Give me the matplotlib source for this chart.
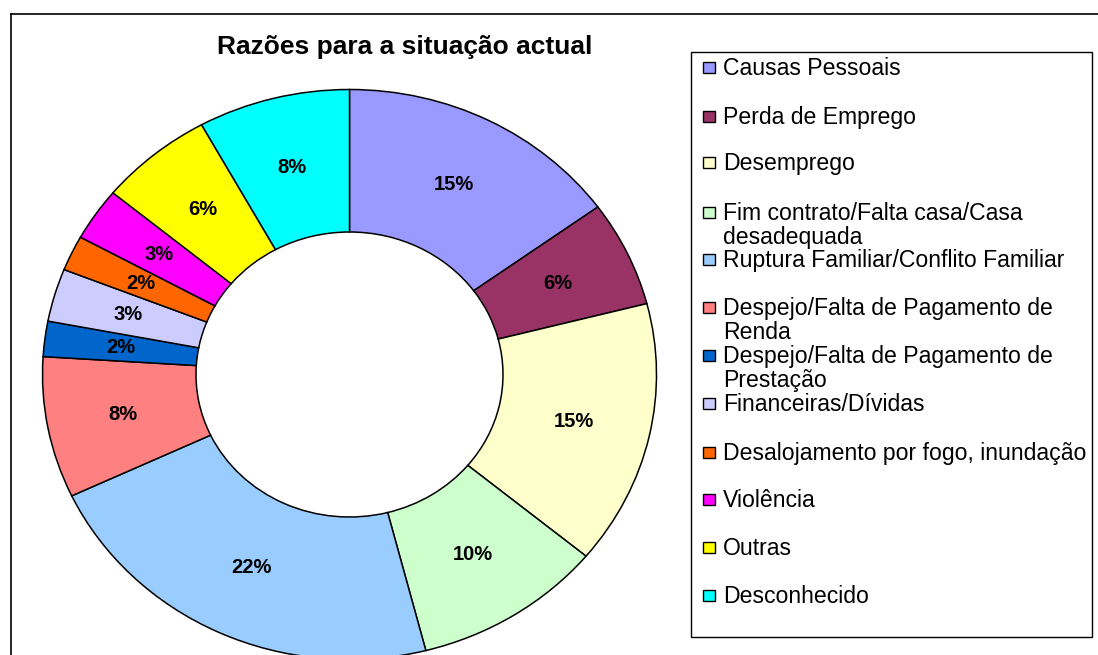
import matplotlib
matplotlib.use("Agg")
import matplotlib.pyplot as plt
from matplotlib.patches import Rectangle

plt.rcParams['font.family'] = ['Liberation Sans', 'DejaVu Sans']

title = "Razões para a situação actual"
categories = [
    "Causas Pessoais",
    "Perda de Emprego",
    "Desemprego",
    "Fim contrato/Falta casa/Casa\ndesadequada",
    "Ruptura Familiar/Conflito Familiar",
    "Despejo/Falta de Pagamento de\nRenda",
    "Despejo/Falta de Pagamento de\nPrestação",
    "Financeiras/Dívidas",
    "Desalojamento por fogo, inundação",
    "Violência",
    "Outras",
    "Desconhecido",
]
values = [15, 6, 15, 10, 22, 8, 2, 3, 2, 3, 6, 8]
colors = ["#9999FF", "#993366", "#FFFFCC", "#CCFFCC", "#99CCFF", "#FF8080",
          "#0066CC", "#CCCCFF", "#FF6600", "#FF00FF", "#FFFF00", "#00FFFF"]

W, H = 1098, 655
fig = plt.figure(figsize=(W / 100, H / 100), dpi=100)

def fx(px):
    return px / W

def fy(py):
    return 1 - py / H

# outer frame
fig.add_artist(plt.Line2D([fx(11), fx(11)], [fy(14), fy(700)], color="black", lw=1.2,
                          transform=fig.transFigure))
fig.add_artist(plt.Line2D([fx(11), fx(1200)], [fy(14), fy(14)], color="black", lw=1.2,
                          transform=fig.transFigure))

# donut axes (elliptical)
cx, cy, rx, ry = 349.5, 374.5, 307, 285
ax = fig.add_axes([fx(cx - rx), fy(cy + ry), fx(2 * rx), (2 * ry) / H])
wedges, texts, autotexts = ax.pie(
    values, colors=colors, startangle=90, counterclock=False,
    radius=1.0, autopct=lambda p: f"{p:.0f}%", pctdistance=0.75,
    wedgeprops=dict(width=0.5, edgecolor="black", linewidth=1.1),
    textprops=dict(fontsize=14.5, fontweight="bold", color="black"),
)
ax.set_aspect("auto")
ax.set_xlim(-1, 1)
ax.set_ylim(-1, 1)
ax.axis("off")

fig.text(fx(405), fy(47), title, ha="center", va="center", fontsize=19, fontweight="bold")

# legend box
fig.add_artist(Rectangle((fx(691), fy(637)), fx(1092 - 691), (637 - 52) / H,
                         transform=fig.transFigure, facecolor="white", edgecolor="black", lw=1.0))
slots = [67, 116, 162, 212, 259, 307, 355, 403, 452, 499, 547, 595]
for lab, col, sy in zip(categories, colors, slots):
    fig.add_artist(Rectangle((fx(702.5), fy(sy + 6)), fx(12), 11 / H,
                             transform=fig.transFigure, facecolor=col, edgecolor="black", lw=1.0))
    for i, line in enumerate(lab.split("\n")):
        fig.text(fx(723), fy(sy + 8 + 24 * i), line, ha="left", va="baseline", fontsize=16.6)

fig.savefig("out.png", dpi=100)
